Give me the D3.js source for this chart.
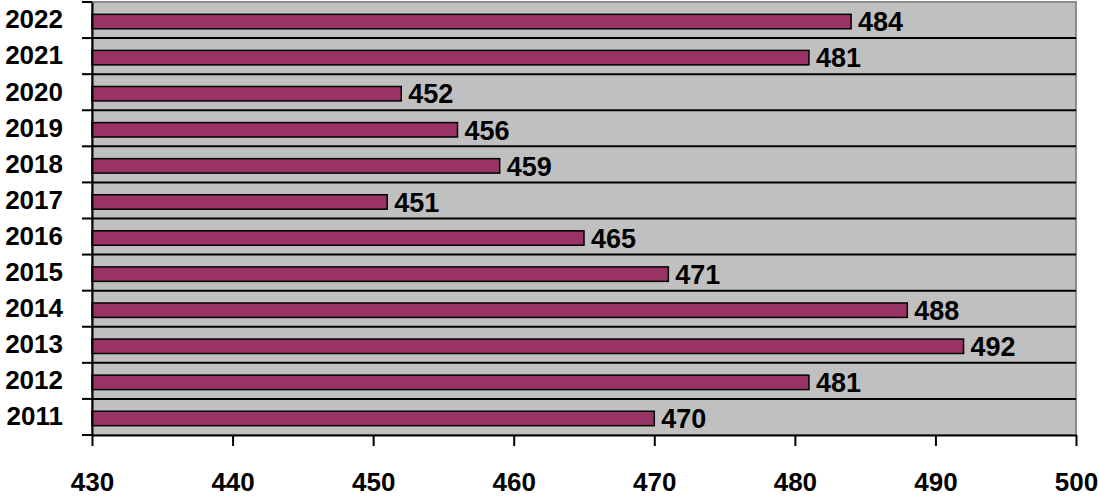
<!DOCTYPE html>
<html>
<head>
<meta charset="utf-8">
<script src="https://cdn.jsdelivr.net/npm/d3@7"></script>
<style>
  body { margin: 0; background: #fff; }
  text { font-family: "Liberation Sans", Arial, sans-serif; font-weight: bold; }
</style>
</head>
<body>
<div id="chart"></div>
<script>
// years top to bottom
const years = ["2022", "2021", "2020", "2019", "2018", "2017", "2016", "2015", "2014", "2013", "2012", "2011"];
const values = [484, 481, 452, 456, 459, 451, 465, 471, 488, 492, 481, 470];
const xTicks = [430, 440, 450, 460, 470, 480, 490, 500];

const data = years.map((y, i) => ({year: y, value: values[i]}));

const width = 1099, height = 498,
    margin = ({top: 2, right: 23, bottom: 63, left: 92});

let svg = d3.select("#chart")
    .append("svg")
    .attr("width", width)
    .attr("height", height);

const x = d3.scaleLinear()
    .domain([430, 500])
    .range([margin.left, width - margin.right]);

const y = d3.scaleBand()
    .domain(years)
    .range([margin.top, height - margin.bottom])
    .padding(0);

// plot background
svg.append("rect")
    .attr("x", margin.left)
    .attr("y", margin.top)
    .attr("width", x(500) - x(430))
    .attr("height", y.range()[1] - y.range()[0])
    .attr("fill", "#c0c0c0")
    .attr("stroke", "#8c8c8c")
    .attr("stroke-width", 2);

// category boundary lines
const bounds = years.map(d => y(d) + y.bandwidth()).slice(0, -1);
svg.append("g")
    .selectAll("line")
    .data(bounds)
    .join("line")
    .attr("x1", margin.left)
    .attr("x2", x(500))
    .attr("y1", d => d)
    .attr("y2", d => d)
    .attr("stroke", "#000")
    .attr("stroke-width", 2);

// bars
const barH = y.bandwidth() * 0.4;
let bar = svg.selectAll(".bar")
    .data(data)
    .join("g")
    .attr("class", "bar");

bar.append("rect")
    .attr("x", x(430))
    .attr("y", d => y(d.year) + (y.bandwidth() - barH) / 2 + 1.5)
    .attr("width", d => x(d.value) - x(430))
    .attr("height", barH)
    .attr("fill", "#993366")
    .attr("stroke", "#000")
    .attr("stroke-width", 1.5);

bar.append("text")
    .text(d => d.value)
    .attr("x", d => x(d.value) + 7)
    .attr("y", d => y(d.year) + y.bandwidth() / 2 + 1.5)
    .attr("dy", "0.36em")
    .attr("font-size", 27)
    .attr("fill", "#000");

// y axis
const yAxis = g => g
    .attr("transform", `translate(${margin.left},0)`)
    .call(d3.axisLeft(y).tickSize(0).tickPadding(29))
    .call(g => g.select(".domain").attr("stroke", "#000").attr("stroke-width", 2))
    .call(g => g.selectAll("text").attr("font-size", 26).attr("font-family", "Liberation Sans, Arial, sans-serif").attr("fill", "#000"));
svg.append("g").call(yAxis);

// y axis boundary ticks
const yBounds = [margin.top, ...years.map(d => y(d) + y.bandwidth())];
svg.append("g")
    .selectAll("line")
    .data(yBounds)
    .join("line")
    .attr("x1", margin.left - 10)
    .attr("x2", margin.left)
    .attr("y1", d => d)
    .attr("y2", d => d)
    .attr("stroke", "#000")
    .attr("stroke-width", 2);

// x axis
const xAxis = g => g
    .attr("transform", `translate(0,${height - margin.bottom})`)
    .call(d3.axisBottom(x).tickValues(xTicks).tickSize(11).tickPadding(27).tickSizeOuter(0))
    .call(g => g.select(".domain").attr("stroke", "#000").attr("stroke-width", 2))
    .call(g => g.selectAll(".tick line").attr("stroke", "#000").attr("stroke-width", 2))
    .call(g => g.selectAll("text").attr("font-size", 26).attr("font-family", "Liberation Sans, Arial, sans-serif").attr("fill", "#000"));
svg.append("g").call(xAxis);
</script>
</body>
</html>
